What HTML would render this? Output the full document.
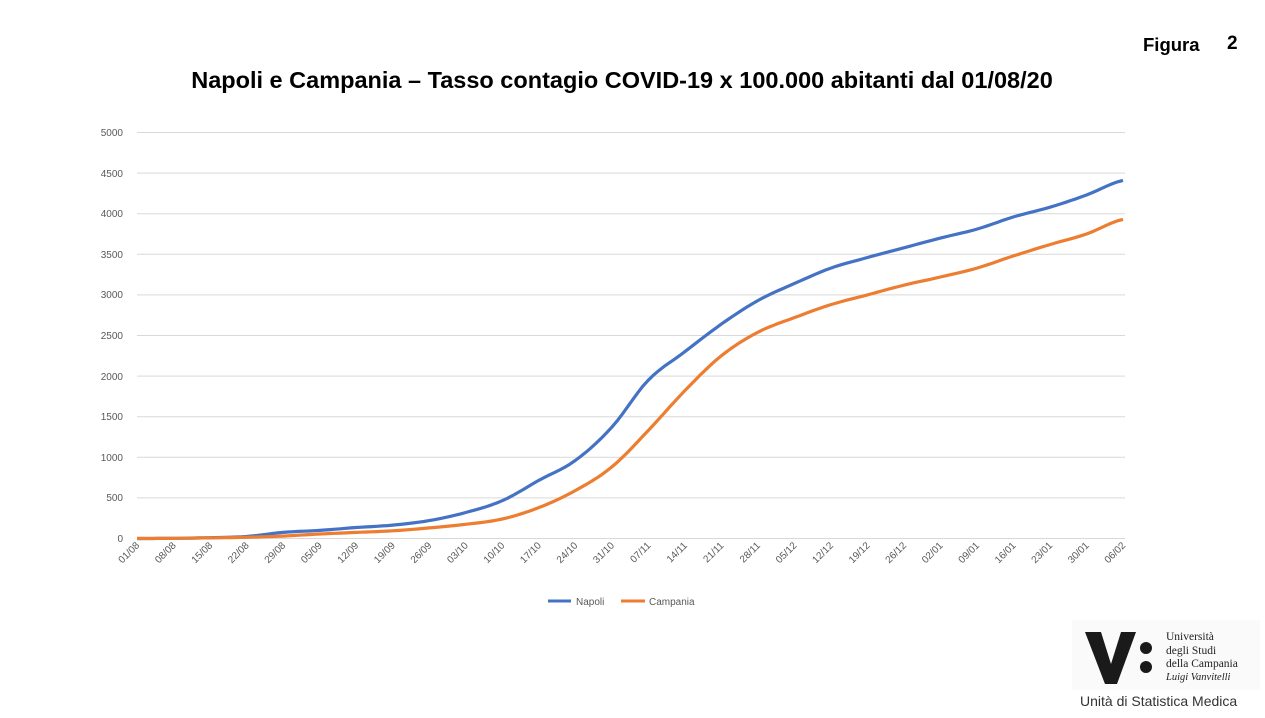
<!DOCTYPE html><html><head><meta charset="utf-8"><style>body{margin:0;width:1265px;height:713px;background:#fff;overflow:hidden;font-family:"Liberation Sans",sans-serif}</style></head><body>
<svg width="1265" height="713" xmlns="http://www.w3.org/2000/svg" font-family="Liberation Sans, sans-serif">
<text x="1143" y="51" font-size="18.5" font-weight="bold">Figura</text>
<text x="1227" y="49" font-size="19" font-weight="bold">2</text>
<text x="622" y="88" font-size="23.5" font-weight="bold" text-anchor="middle">Napoli e Campania – Tasso contagio COVID-19 x 100.000 abitanti dal 01/08/20</text>
<g stroke="#d9d9d9" stroke-width="1">
<line x1="137" x2="1125" y1="538.5" y2="538.5"/><line x1="137" x2="1125" y1="497.9" y2="497.9"/><line x1="137" x2="1125" y1="457.3" y2="457.3"/><line x1="137" x2="1125" y1="416.7" y2="416.7"/><line x1="137" x2="1125" y1="376.1" y2="376.1"/><line x1="137" x2="1125" y1="335.5" y2="335.5"/><line x1="137" x2="1125" y1="294.9" y2="294.9"/><line x1="137" x2="1125" y1="254.3" y2="254.3"/><line x1="137" x2="1125" y1="213.7" y2="213.7"/><line x1="137" x2="1125" y1="173.1" y2="173.1"/><line x1="137" x2="1125" y1="132.5" y2="132.5"/>
</g>
<g font-size="10" fill="#595959" text-anchor="end">
<text x="123" y="542">0</text><text x="123" y="501">500</text><text x="123" y="461">1000</text><text x="123" y="420">1500</text><text x="123" y="380">2000</text><text x="123" y="339">2500</text><text x="123" y="298">3000</text><text x="123" y="258">3500</text><text x="123" y="217">4000</text><text x="123" y="177">4500</text><text x="123" y="136">5000</text>
</g>
<g id="xl" font-size="10" fill="#595959" text-anchor="end"></g>
<polyline id="nap" fill="none" stroke="#4472c4" stroke-width="3.2" stroke-linejoin="round"/>
<polyline id="cam" fill="none" stroke="#ed7d31" stroke-width="3.2" stroke-linejoin="round"/>
<line x1="548" x2="571" y1="601" y2="601" stroke="#4472c4" stroke-width="3"/>
<text x="576" y="605" font-size="10" fill="#595959">Napoli</text>
<line x1="621" x2="645" y1="601" y2="601" stroke="#ed7d31" stroke-width="3"/>
<text x="649" y="605" font-size="10" fill="#595959">Campania</text>
<rect x="1072" y="620" width="188" height="70" fill="#fafafa"/>
<polygon points="1085,632 1101,632 1111,664 1121,632 1136,632 1117,684 1105,684" fill="#1a1a1a"/>
<circle cx="1146" cy="648" r="6" fill="#1a1a1a"/><circle cx="1146" cy="667" r="6" fill="#1a1a1a"/>
<g font-family="Liberation Serif, serif" font-size="11.5" fill="#222">
<text x="1166" y="640">Università</text><text x="1166" y="654">degli Studi</text><text x="1166" y="667">della Campania</text><text x="1166" y="680" font-style="italic" font-size="10.5">Luigi Vanvitelli</text>
</g>
<text x="1080" y="706" font-size="14" fill="#333">Unità di Statistica Medica</text>
</svg>
<script>
var labels="01/08 08/08 15/08 22/08 29/08 05/09 12/09 19/09 26/09 03/10 10/10 17/10 24/10 31/10 07/11 14/11 21/11 28/11 05/12 12/12 19/12 26/12 02/01 09/01 16/01 23/01 30/01 06/02".split(" ");
var g=document.getElementById("xl"),ns="http://www.w3.org/2000/svg";
labels.forEach(function(l,i){var x=137+i*36.52+3,y=546;var t=document.createElementNS(ns,"text");t.setAttribute("x",x);t.setAttribute("y",y);t.setAttribute("transform","rotate(-45 "+x+" "+y+")");t.textContent=l;g.appendChild(t);});
var N=[0,2,10,25,75,100,135,165,220,320,465,715,960,1370,1950,2300,2640,2930,3140,3330,3460,3580,3700,3810,3960,4080,4230,4410];
var C=[0,2,8,15,30,55,75,95,130,175,240,380,590,880,1330,1820,2250,2540,2720,2880,3000,3120,3220,3330,3480,3620,3750,3930];
function pts(a){var p=[];for(var i=0;i<a.length-1;i++){for(var k=0;k<7;k++){var t=k/7;var a0=a[Math.max(i-1,0)],a1=a[i],a2=a[i+1],a3=a[Math.min(i+2,a.length-1)];var v=0.5*((2*a1)+(-a0+a2)*t+(2*a0-5*a1+4*a2-a3)*t*t+(-a0+3*a1-3*a2+a3)*t*t*t);p.push((137+(i*7+k)*5.217).toFixed(1)+","+(538.5-v*0.0812).toFixed(1));}}p.push("1123,"+(538.5-a[a.length-1]*0.0812).toFixed(1));return p.join(" ");}
document.getElementById("nap").setAttribute("points",pts(N));
document.getElementById("cam").setAttribute("points",pts(C));
</script>
</body></html>
